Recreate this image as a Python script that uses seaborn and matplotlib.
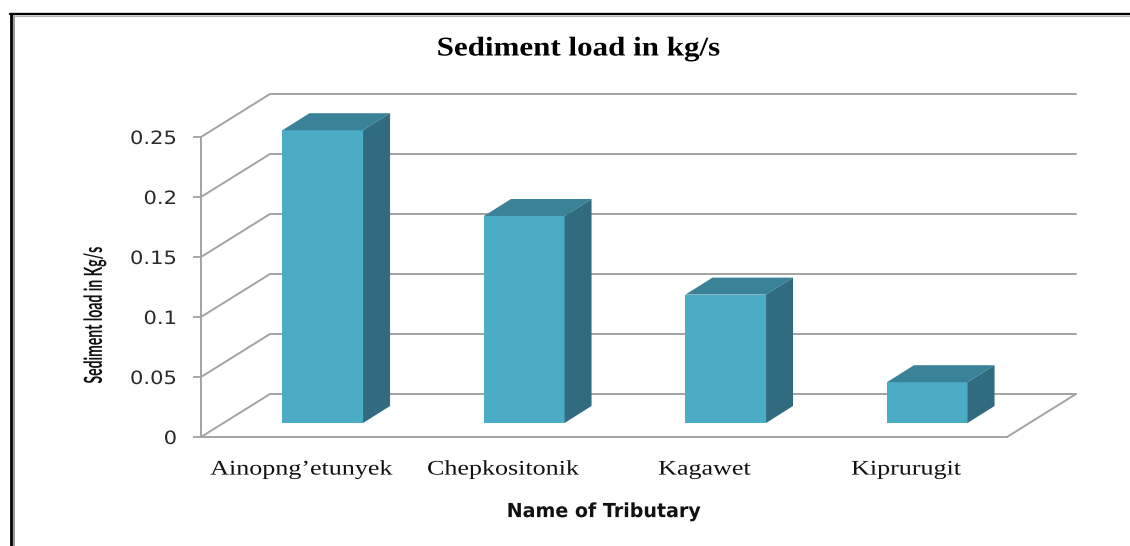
import numpy as np
import pandas as pd
import matplotlib
matplotlib.use('Agg')
import matplotlib.pyplot as plt
from matplotlib.lines import Line2D
from matplotlib.patches import Polygon
from matplotlib.patheffects import AbstractPathEffect
from matplotlib.transforms import Affine2D, IdentityTransform
import seaborn as sb

# values
tributaries = ['Ainopng’etunyek', 'Chepkositonik', 'Kagawet', 'Kiprurugit']
sediment_load = [0.244, 0.1725, 0.107, 0.034]
y_ticks = [0, 0.05, 0.1, 0.15, 0.2, 0.25]
y_tick_labels = ['0', '0.05', '0.1', '0.15', '0.2', '0.25']

W, H = 1130, 546
GRID = '#a3a3a3'
FRONT, TOP, SIDE = '#4bacc6', '#3a8297', '#316b7f'

sb.set_theme(style='white')
plt.rcParams['font.family'] = ['DejaVu Sans']


class Stretch(AbstractPathEffect):
    # the picture was resized unevenly, so its letters are wider or narrower than a normal font
    def __init__(self, sx=1.0, sy=1.0, anchor=0.5):
        super().__init__()
        self.sx, self.sy, self.anchor = sx, sy, anchor

    def draw_path(self, renderer, gc, tpath, affine, rgbFace=None):
        box = affine.transform_path(tpath).get_extents()
        cx = box.x0 + self.anchor * box.width
        cy = (box.y0 + box.y1) / 2
        squeeze = Affine2D().translate(-cx, -cy).scale(self.sx, self.sy).translate(cx, cy)
        renderer.draw_path(gc, tpath, affine + squeeze, rgbFace)


def px_axes(fig, left, right, top, bottom):
    # axes placed by pixel edges, y counted from the top of the image
    return fig.add_axes([left / W, 1 - bottom / H, (right - left) / W, (bottom - top) / H])


fig = plt.figure(figsize=(W / 100, H / 100), dpi=100, facecolor='white')

# wall axes carries ticks and labels, bar axes sits a bit deeper in the fake 3d box
wall = px_axes(fig, 201, 1007, 137, 437)
ax = px_axes(fig, 222, 1028, 123, 423)
ax.patch.set_alpha(0)
wall.set_zorder(1)
ax.set_zorder(2)

df = pd.DataFrame({'tributary': tributaries, 'load': sediment_load})
sb.barplot(data=df, x='tributary', y='load', color=FRONT, saturation=1, width=0.4,
           linewidth=0, ax=ax)
ax.set_xlim(-0.5, 3.5)
ax.set_ylim(0, 0.25)
ax.axis('off')

wall.set_xlim(-0.5, 3.5)
wall.set_ylim(0, 0.25)
wall.set_xticks(range(len(tributaries)))
wall.set_xticklabels(tributaries, family='Liberation Serif', fontsize=15, color='#111111')
wall.set_yticks(y_ticks)
wall.set_yticklabels(y_tick_labels, fontsize=13.2, color='#2a2a2a')
wall.tick_params(axis='x', length=0, pad=17)
wall.tick_params(axis='y', length=6, width=1.3, color=GRID, pad=11.3, left=True)
for label in wall.get_xticklabels():
    label.set_path_effects([Stretch(sx=1.25)])
for label in wall.get_yticklabels():
    label.set_path_effects([Stretch(sx=1.15, anchor=1.0)])
for name in ['top', 'right']:
    wall.spines[name].set_visible(False)
for name in ['left', 'bottom']:
    wall.spines[name].set_color(GRID)
    wall.spines[name].set_linewidth(1.4)

wall.set_xlabel('Name of Tributary', fontweight='bold', fontsize=14, color='#111111',
                path_effects=[Stretch(sx=0.98)])
wall.xaxis.set_label_coords(0.5, -0.217)
wall.set_ylabel('Sediment load in Kg/s', family='Lato', fontweight='bold', fontsize=18,
                color='#111111', path_effects=[Stretch(sy=0.56)])
wall.yaxis.set_label_coords(-0.118, 0.407)

fig.text(578.5 / W, 1 - 49 / H, 'Sediment load in kg/s', family='Liberation Serif',
         fontweight='bold', fontsize=19.5, ha='center', va='center', color='black',
         path_effects=[Stretch(sx=1.145)])

# depth of the box and of the bars, pixels
box_dx, box_dy = 69, 43
bar_dx, bar_dy = 27, 17
fig.canvas.draw()
px = IdentityTransform()

# slanted grid lines and back wall
x0 = wall.transData.transform((-0.5, 0))[0]
x1 = wall.transData.transform((3.5, 0))[0]
for t in y_ticks:
    y = wall.transData.transform((0, t))[1]
    xs = [x0, x0 + box_dx, x1 + box_dx]
    ys = [y, y + box_dy, y + box_dy]
    wall.add_line(Line2D(xs, ys, transform=px, color=GRID, lw=1.4, clip_on=False,
                         solid_joinstyle='miter'))
y = wall.transData.transform((0, 0))[1]
wall.add_line(Line2D([x1, x1 + box_dx], [y, y + box_dy], transform=px, color=GRID, lw=1.4,
                     clip_on=False))

# top and side faces for each seaborn bar
for bar in list(ax.patches):
    (l, b), (r, t) = ax.transData.transform([(bar.get_x(), 0),
                                             (bar.get_x() + bar.get_width(), bar.get_height())])
    ax.add_patch(Polygon([(l, t), (r, t), (r + bar_dx, t + bar_dy), (l + bar_dx, t + bar_dy)],
                         closed=True, transform=px, fc=TOP, ec='none', clip_on=False))
    ax.add_patch(Polygon([(r, b), (r + bar_dx, b + bar_dy), (r + bar_dx, t + bar_dy), (r, t)],
                         closed=True, transform=px, fc=SIDE, ec='none', clip_on=False))

# page border left over from the document, black with a grey shadow
for xs, ys, col, lw in [([11.3, 11.3], [H, 14.3], 'black', 2.0),
                        ([10, W], [14.3, 14.3], 'black', 1.7),
                        ([13.7, 13.7], [H, 16], '#9a9a9a', 1.4),
                        ([13.7, W], [16, 16], '#b5b5b5', 0.8)]:
    fig.add_artist(Line2D(np.array(xs) / W, 1 - np.array(ys) / H, transform=fig.transFigure,
                          color=col, lw=lw))

fig.savefig('out.png', dpi=100)
